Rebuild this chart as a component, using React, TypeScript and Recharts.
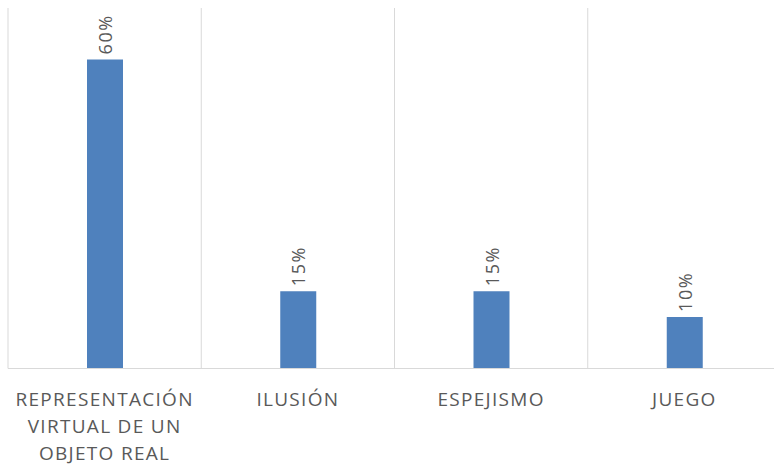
import { BarChart, Bar, XAxis, YAxis, CartesianGrid } from 'recharts'

const CATEGORIES = ['REPRESENTACIÓN VIRTUAL DE UN OBJETO REAL', 'ILUSIÓN', 'ESPEJISMO', 'JUEGO']
const VALUES = [60, 15, 15, 10]
const Y_DOMAIN: [number, number] = [0, 70]

const data = CATEGORIES.map((name, i) => ({ name, value: VALUES[i] }))

const GRAY = '#595959'
const GRID = '#d9d9d9'
const FONT = '"Open Sans", sans-serif'

// greedy word wrap for the long category label
function wrap(text: string, max = 14) {
  const lines: string[] = []
  let cur = ''
  for (const w of text.split(' ')) {
    const next = cur ? cur + ' ' + w : w
    if (next.length > max && cur) {
      lines.push(cur)
      cur = w
    } else cur = next
  }
  if (cur) lines.push(cur)
  return lines
}

function CategoryTick({ x, y, payload }: any) {
  const lines = wrap(String(payload.value))
  return (
    <text x={x} y={y} textAnchor="middle" fill={GRAY} fontFamily={FONT} fontSize={19} letterSpacing={1.3}>
      {lines.map((l, i) => (
        <tspan key={i} x={x} dy={i === 0 ? 29 : 27.2}>
          {l}
        </tspan>
      ))}
    </text>
  )
}

function ValueLabel({ x, y, width, value }: any) {
  const cx = x + width / 2
  const ty = y - 5
  return (
    <text
      x={cx}
      y={ty}
      transform={`rotate(-90, ${cx}, ${ty})`}
      textAnchor="start"
      dominantBaseline="central"
      fill={GRAY}
      fontFamily={FONT}
      fontSize={18}
      letterSpacing={1.6}
    >
      {value}%
    </text>
  )
}

export default function App() {
  return (
    <div style={{ position: 'fixed', left: 0, top: 0, width: 774, height: 466, overflow: 'hidden', background: '#fff' }}>
      <BarChart width={790} height={466} data={data} margin={{ top: 8, right: 9, bottom: 0, left: 8 }}>
        <CartesianGrid
          horizontal={false}
          stroke={GRID}
          verticalCoordinatesGenerator={({ offset }: any) =>
            CATEGORIES.map((_, i) => offset.left + (i * offset.width) / CATEGORIES.length).concat(offset.left + offset.width)
          }
        />
        <XAxis
          dataKey="name"
          interval={0}
          height={97.5}
          tickLine={false}
          axisLine={{ stroke: GRID }}
          tick={<CategoryTick />}
        />
        <YAxis hide domain={Y_DOMAIN} />
        <Bar dataKey="value" fill="#4f81bd" barSize={36} isAnimationActive={false} label={<ValueLabel />} />
      </BarChart>
    </div>
  )
}
